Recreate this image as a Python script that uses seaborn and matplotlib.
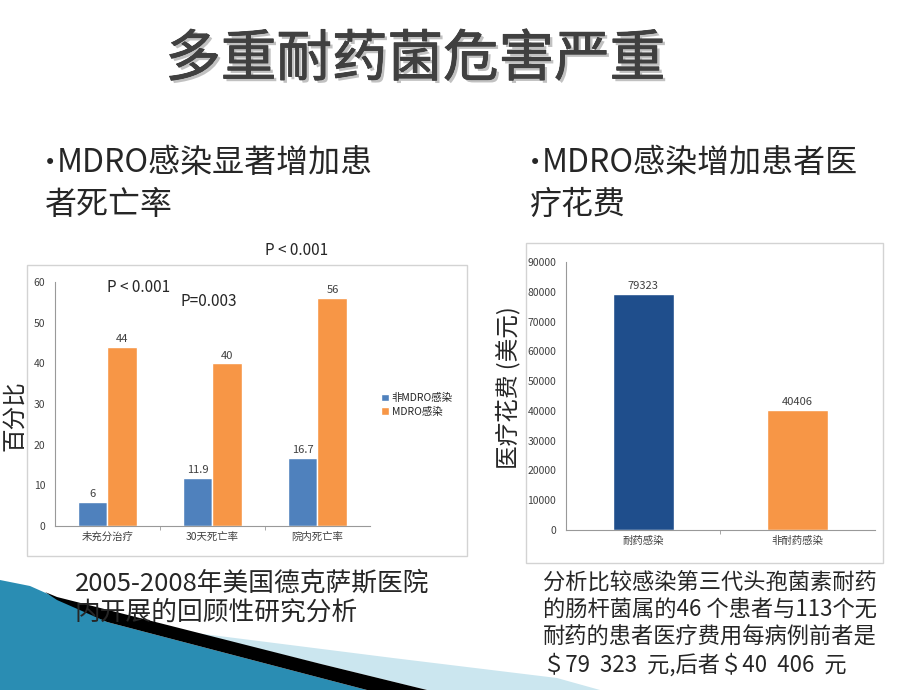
import matplotlib
matplotlib.use("Agg")
import matplotlib.pyplot as plt
import matplotlib.patheffects as pe
from matplotlib.patches import Rectangle, Polygon
import pandas as pd
import seaborn as sns

# Left chart: mortality (%)
MORT_CATEGORIES = ["未充分治疗", "30天死亡率", "院内死亡率"]
MORT_NON_MDRO = [6, 11.9, 16.7]
MORT_MDRO = [44, 40, 56]
MORT_SERIES = ["非MDRO感染", "MDRO感染"]

# Right chart: medical cost (USD)
COST_CATEGORIES = ["耐药感染", "非耐药感染"]
COST_VALUES = [79323, 40406]

W, H = 920, 690

sns.set_style("white")
plt.rcParams['font.family'] = ['Noto Sans CJK SC', 'DejaVu Sans']


def fx(x):
    return x / W


def fy(y):
    return 1 - y / H


fig = plt.figure(figsize=(9.2, 6.9), dpi=100)

# Decorative swoosh bottom-left
blue = [(0, 580), (30, 586), (57, 598), (107, 622), (321, 678), (367, 690), (0, 690)]
black = [(45, 592), (57, 597), (321, 664), (427, 690), (367, 690), (321, 678), (107, 622), (57, 600)]
light = [(140, 626), (393, 658), (557, 678), (600, 690), (427, 690), (321, 664), (140, 620)]
for pts, col in [(blue, "#2a8db3"), (light, "#cbe6ef"), (black, "#000000")]:
    fig.patches.append(Polygon([(fx(x), fy(y)) for x, y in pts], closed=True,
                               transform=fig.transFigure, facecolor=col, edgecolor="none", zorder=0))

# Chart borders
for x0, y0, x1, y1 in [(27, 265, 467, 556), (526, 243, 883, 563)]:
    fig.patches.append(Rectangle((fx(x0), fy(y1)), fx(x1 - x0), (y1 - y0) / H,
                                 transform=fig.transFigure, fill=False, edgecolor="#d3d3d3", lw=1))

# Title and bullets
fig.text(fx(415), fy(60), "多重耐药菌危害严重", fontsize=40, color="#404040",
         ha="center", va="center",
         path_effects=[pe.withSimplePatchShadow(offset=(2, -2), shadow_rgbFace="#999999", alpha=0.6),
                       pe.Stroke(linewidth=0.6, foreground="#404040"), pe.Normal()])
for x, y in [(44, 163), (529, 163)]:
    fig.text(fx(x), fy(y), "•", fontsize=15, family="DejaVu Sans", ha="left", va="center")
fig.text(fx(57), fy(163), "MDRO感染显著增加患", fontsize=23, ha="left", va="center")
fig.text(fx(45), fy(205), "者死亡率", fontsize=23, ha="left", va="center")
fig.text(fx(542), fy(163), "MDRO感染增加患者医", fontsize=23, ha="left", va="center")
fig.text(fx(530), fy(205), "疗花费", fontsize=23, ha="left", va="center")

# Left chart
mort = pd.DataFrame({
    "cat": MORT_CATEGORIES * 2,
    "series": [MORT_SERIES[0]] * 3 + [MORT_SERIES[1]] * 3,
    "value": MORT_NON_MDRO + MORT_MDRO,
})
ax1 = fig.add_axes([fx(55), fy(526), fx(315), 244 / H])
sns.barplot(data=mort, x="cat", y="value", hue="series", hue_order=MORT_SERIES,
            palette=["#4f81bd", "#f79646"], width=0.57, saturation=1, ax=ax1)
for c in ax1.containers:
    ax1.bar_label(c, fmt="%g", fontsize=8, color="#404040", padding=2)
ax1.set_ylim(0, 60)
ax1.set_yticks(range(0, 61, 10))
ax1.set_xlabel("")
ax1.set_ylabel("")
ax1.set_xticks([0.5, 1.5], minor=True)
ax1.tick_params(axis="both", which="major", labelsize=7.5, colors="#404040", length=0, pad=4)
ax1.tick_params(axis="y", which="major", length=3, color="#999999")
ax1.tick_params(axis="x", which="minor", length=3, color="#999999", bottom=True)
for s in ["top", "right"]:
    ax1.spines[s].set_visible(False)
for s in ["left", "bottom"]:
    ax1.spines[s].set_color("#999999")
    ax1.spines[s].set_linewidth(0.8)
ax1.legend(loc="center left", bbox_to_anchor=(fx(372), fy(405)), bbox_transform=fig.transFigure,
           frameon=False, fontsize=7.5, handlelength=0.7, handleheight=0.7,
           handletextpad=0.3, labelspacing=0.3)
fig.text(fx(15), fy(416), "百分比", fontsize=17, rotation=90, ha="center", va="center")
fig.text(fx(139), fy(287), "P < 0.001", fontsize=11, ha="center", va="center")
fig.text(fx(209), fy(301), "P=0.003", fontsize=11, ha="center", va="center")
fig.text(fx(297), fy(250), "P < 0.001", fontsize=11, ha="center", va="center")

# Right chart
cost = pd.DataFrame({"cat": COST_CATEGORIES, "value": COST_VALUES})
ax2 = fig.add_axes([fx(566), fy(530), fx(309), 268 / H])
sns.barplot(data=cost, x="cat", y="value", hue="cat", palette=["#1f4e8c", "#f79646"],
            width=0.395, saturation=1, legend=False, ax=ax2)
for c in ax2.containers:
    ax2.bar_label(c, fmt="%d", fontsize=8, color="#404040", padding=2)
ax2.set_ylim(0, 90000)
ax2.set_yticks(range(0, 90001, 10000))
ax2.set_xlabel("")
ax2.set_ylabel("")
ax2.set_xticks([0.5], minor=True)
ax2.tick_params(axis="both", which="major", labelsize=7.5, colors="#404040", length=0, pad=4)
ax2.tick_params(axis="y", which="major", length=3, color="#999999")
ax2.tick_params(axis="x", which="minor", length=3, color="#999999", bottom=True)
for s in ["top", "right"]:
    ax2.spines[s].set_visible(False)
for s in ["left", "bottom"]:
    ax2.spines[s].set_color("#999999")
    ax2.spines[s].set_linewidth(0.8)
fig.text(fx(508), fy(388), "医疗花费 (美元)", fontsize=17, rotation=90, ha="center", va="center")

# Captions
fig.text(fx(75), fy(584), "2005-2008年美国德克萨斯医院", fontsize=18.5, ha="left", va="center", zorder=5)
fig.text(fx(75), fy(613), "内开展的回顾性研究分析", fontsize=18.5, ha="left", va="center", zorder=5)
right_lines = ["分析比较感染第三代头孢菌素耐药",
               "的肠杆菌属的46 个患者与113个无",
               "耐药的患者医疗费用每病例前者是",
               "＄79  323  元,后者＄40  406  元"]
for i, line in enumerate(right_lines):
    fig.text(fx(543), fy(582 + 27.7 * i), line, fontsize=16, ha="left", va="center")

fig.savefig("out.png", dpi=100)
